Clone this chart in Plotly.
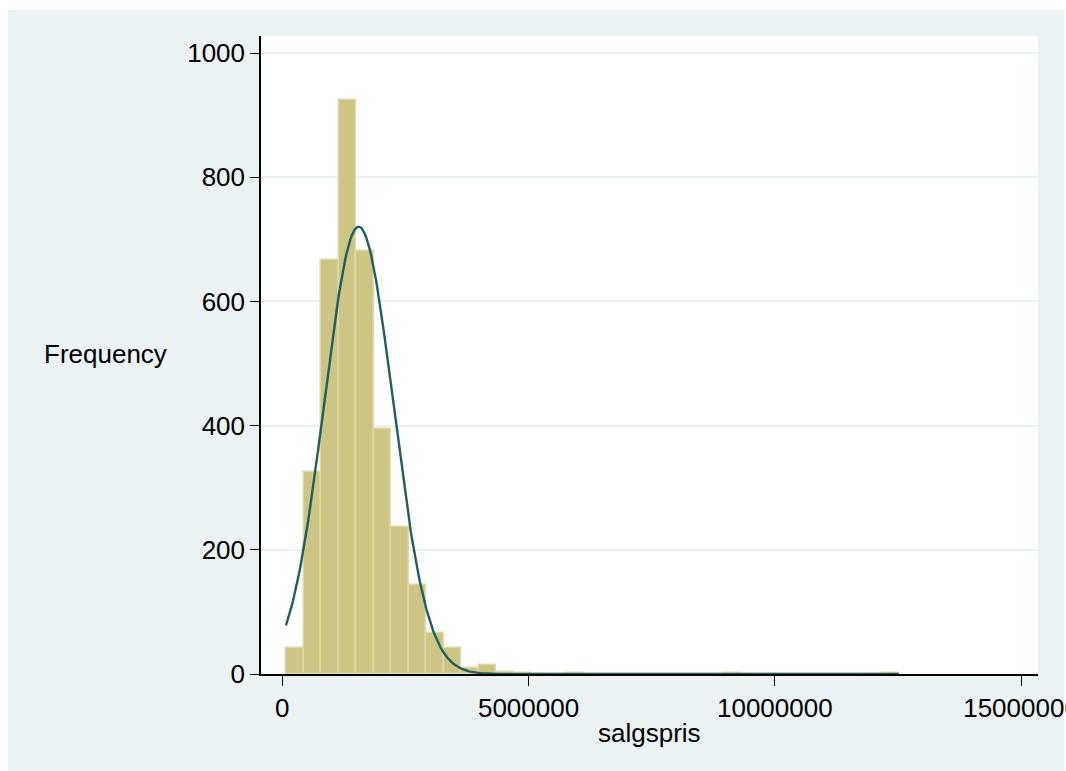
import numpy as np
import plotly.graph_objects as go

# ---- data ----
bin_start = 75000          # left edge of first bin (salgspris)
bin_width = 355500         # width of each bin
counts = [42, 326, 666, 925, 681, 394, 237, 144, 66, 42,
          10, 14, 3, 2, 0, 0, 1, 0, 0, 0,
          0, 0, 0, 0, 0, 1, 0, 0, 0, 0,
          0, 0, 0, 0, 1]
normal_mean = 1550000      # fitted normal curve
normal_sd = 700000
x_tickvals = [0, 5000000, 10000000, 15000000]
x_ticktext = ["0", "5000000", "10000000", "15000000"]
y_tickvals = [0, 200, 400, 600, 800, 1000]

n_bins = len(counts)
centers = [bin_start + (i + 0.5) * bin_width for i in range(n_bins)]
total = sum(counts)
x_lo = bin_start
x_hi = bin_start + n_bins * bin_width
xs = np.linspace(x_lo, x_hi, 600)
ys = total * bin_width / (normal_sd * np.sqrt(2 * np.pi)) * np.exp(-0.5 * ((xs - normal_mean) / normal_sd) ** 2)

W, H = 1066, 771
L, R, T, B = 261, 1037.7, 36, 674
pw, ph = R - L, B - T

def px(xp):
    return (xp - L) / pw

def py(yp):
    return (B - yp) / ph

fig = go.Figure()
fig.add_trace(go.Bar(
    x=centers, y=counts, width=[bin_width] * n_bins,
    marker=dict(color="#CCC586", line=dict(color="#DEDAA8", width=1.5)),
    showlegend=False, hoverinfo="x+y",
))
fig.add_trace(go.Scatter(
    x=xs, y=ys, mode="lines",
    line=dict(color="#1F5F60", width=2.4),
    showlegend=False, hoverinfo="skip",
))

font = dict(family="Liberation Sans, Arial, Helvetica, sans-serif", size=26, color="black")

fig.update_layout(
    width=W, height=H,
    margin=dict(l=L, r=W - R, t=T, b=H - B, pad=0, autoexpand=False),
    paper_bgcolor="white",
    plot_bgcolor="rgba(0,0,0,0)",
    font=font,
    bargap=0,
    shapes=[
        dict(type="rect", xref="paper", yref="paper",
             x0=px(8), x1=px(1064), y0=py(771), y1=py(10),
             fillcolor="#EAF2F3", line=dict(width=0), layer="below"),
        dict(type="rect", xref="paper", yref="paper",
             x0=0, x1=1, y0=0, y1=1,
             fillcolor="white", line=dict(width=0), layer="below"),
    ],
    xaxis=dict(
        range=[(L - 282.3) / 49.23 * 1e6, (R - 282.3) / 49.23 * 1e6],
        tickvals=x_tickvals, ticktext=x_ticktext,
        ticks="outside", ticklen=10, tickwidth=1.3, tickcolor="black",
        showline=True, linecolor="black", linewidth=1.5,
        showgrid=False, zeroline=False, automargin=False,
        tickfont=font, ticklabeloverflow="allow",
    ),
    yaxis=dict(
        range=[0, (B - T) / 0.621],
        tickvals=y_tickvals,
        ticks="outside", ticklen=9, tickwidth=1.3, tickcolor="black",
        showline=True, linecolor="black", linewidth=1.5,
        showgrid=True, gridcolor="#EAF2F3", gridwidth=1.5,
        zeroline=False, automargin=False,
        tickfont=font, ticklabelstandoff=0,
    ),
    annotations=[
        dict(text="Frequency", xref="paper", yref="paper",
             x=px(169), y=py(354), xanchor="right", yanchor="middle",
             showarrow=False, font=font),
        dict(text="salgspris", xref="paper", yref="paper",
             x=px(649), y=py(733), xanchor="center", yanchor="middle",
             showarrow=False, font=font),
    ],
)

fig.write_html("out.html")
